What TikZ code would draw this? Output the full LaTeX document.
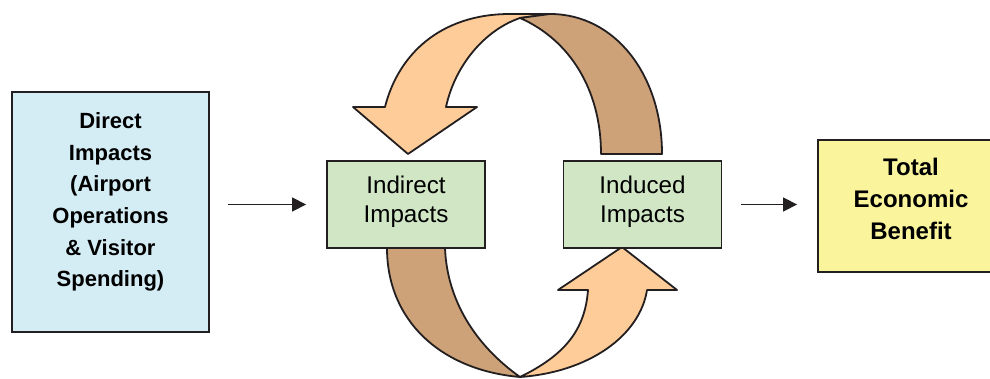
\documentclass[tikz,border=0pt]{standalone}
\usepackage{fontspec}
\setmainfont{Liberation Sans}
\usetikzlibrary{arrows.meta, positioning}

\definecolor{directblue}{RGB}{212,236,243}
\definecolor{impactgreen}{RGB}{208,230,197}
\definecolor{totalyellow}{RGB}{250,244,156}
\definecolor{loopfront}{RGB}{253,204,153}
\definecolor{loopback}{RGB}{205,162,121}
\definecolor{linegrey}{RGB}{35,31,32}

\begin{document}
\begin{tikzpicture}[x=0.5pt, y=-0.5pt, >={Triangle[length=7pt,width=7pt]}, line width=0.9pt, node distance=118.25pt]
        \tikzstyle{box}=[draw=linegrey, align=center, inner sep=0pt]
        \tikzstyle{impact}=[box, fill=impactgreen, minimum width=79pt, minimum height=43.5pt, text depth=5pt, font=\fontsize{12.1}{14.3}\selectfont]
        \tikzstyle{loop}=[draw=linegrey, line join=round]
        \tikzstyle{flow}=[->, draw=linegrey, line width=0.65pt, shorten <=9.25pt, shorten >=10pt]
        \useasboundingbox (0,0) rectangle (990,379);

        \node[box, fill=directblue, minimum width=98.5pt, minimum height=120pt] (direct) at (110.5,212) {};
        \node[font=\bfseries\fontsize{11}{15.8}\selectfont, align=center] (directtext) at (110.5,202) {Direct\\Impacts\\(Airport\\Operations\\\& Visitor\\Spending)};

        % the two loop arrows
        \filldraw[loop, fill=loopfront] (385,107) .. controls (398,55) and (440,14) .. (510,14) -- (550,14) -- (520,18) .. controls (485,30) and (455,65) .. (446,107) -- (477,107) -- (408,154) -- (353,107) -- cycle;
        \filldraw[loop, fill=loopback] (550,14) .. controls (615,14) and (662,75) .. (662,154) -- (601,154) .. controls (601,90) and (570,40) .. (520,18) -- cycle;
        \filldraw[loop, fill=loopback] (387,248) .. controls (387,320) and (440,370) .. (520,377) .. controls (475,345) and (447,300) .. (445,248) -- cycle;
        \filldraw[loop, fill=loopfront] (520,377) .. controls (590,372) and (640,335) .. (647,290) -- (677,290) -- (622,247) -- (558,290) -- (588,290) .. controls (585,330) and (565,355) .. (520,377) -- cycle;

        \node[impact] (indirect) at (406,204.5) {Indirect\\Impacts};
        \node[impact] (induced) [right of=indirect] {Induced\\Impacts};
        \node[box, fill=totalyellow, minimum width=93pt, minimum height=66pt, text depth=7pt, font=\bfseries\fontsize{12}{16}\selectfont] (total) at (911,206) {Total\\Economic\\Benefit};

        \draw[flow] (indirect.west -| direct.east) -- (indirect.west);
        \draw[flow] (induced.east) -- (induced.east -| total.west);
      \end{tikzpicture}
\end{document}
